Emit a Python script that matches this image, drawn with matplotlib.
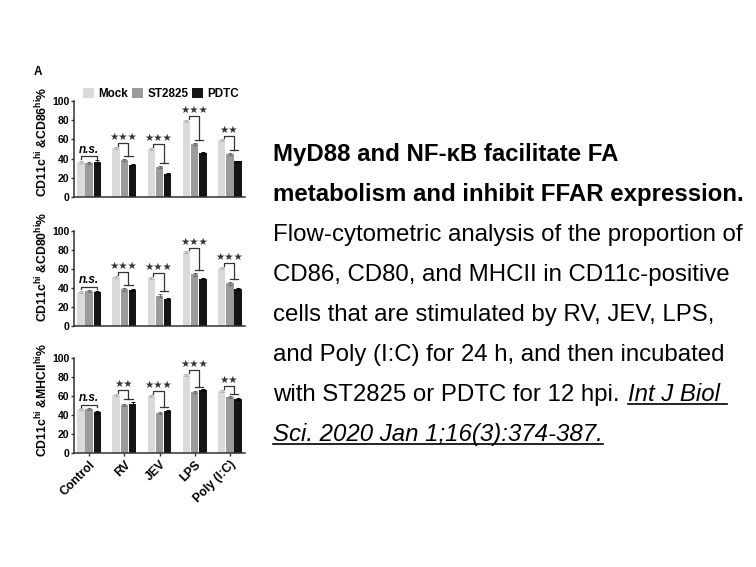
import matplotlib
matplotlib.use('Agg')
import matplotlib.pyplot as plt
import numpy as np
from matplotlib.lines import Line2D
from matplotlib.patches import Patch

plt.rcParams['font.family'] = ['Liberation Sans', 'DejaVu Sans']
plt.rcParams['mathtext.fontset'] = 'custom'
plt.rcParams['mathtext.rm'] = 'Liberation Sans:bold'
plt.rcParams['mathtext.bf'] = 'Liberation Sans:bold'
plt.rcParams['mathtext.it'] = 'Liberation Sans:italic:bold'

# ---------------- data ----------------
categories = ['Control', 'RV', 'JEV', 'LPS', 'Poly (I:C)']
treatments = ['Mock', 'ST2825', 'PDTC']

cd86_mock = [36, 51, 50, 79, 59]
cd86_st2825 = [35, 39, 31, 55, 44.5]
cd86_pdtc = [36.5, 33, 23.5, 46, 37]
cd86_err_mock = [1.0, 1.0, 1.0, 1.0, 1.0]
cd86_err_st2825 = [1.0, 1.0, 1.0, 1.0, 1.0]
cd86_err_pdtc = [2.5, 1.0, 1.0, 1.0, 1.0]
cd86_sig = ['n.s.', '***', '***', '***', '**']

cd80_mock = [36, 52, 51, 77.5, 61.5]
cd80_st2825 = [37, 38.5, 32, 54.5, 45]
cd80_pdtc = [35.5, 38, 28.5, 50, 39]
cd80_err_mock = [1.0, 1.0, 1.0, 1.0, 1.0]
cd80_err_st2825 = [1.0, 1.5, 1.5, 1.5, 1.5]
cd80_err_pdtc = [1.0, 1.0, 1.0, 1.0, 1.0]
cd80_sig = ['n.s.', '***', '***', '***', '***']

mhc_mock = [46.5, 61, 60, 82.5, 65.5]
mhc_st2825 = [46.5, 51, 42.5, 64, 58.5]
mhc_pdtc = [43, 52, 44, 66, 57]
mhc_err_mock = [1.0, 1.0, 1.0, 1.0, 1.0]
mhc_err_st2825 = [1.0, 1.0, 1.0, 1.0, 1.0]
mhc_err_pdtc = [1.5, 1.5, 1.0, 1.0, 1.0]
mhc_sig = ['n.s.', '**', '***', '***', '**']

ylabels = [r'CD11c$^{\mathbf{hi}}$ &CD86$^{\mathbf{hi}}$%',
           r'CD11c$^{\mathbf{hi}}$ &CD80$^{\mathbf{hi}}$%',
           r'CD11c$^{\mathbf{hi}}$ &MHCII$^{\mathbf{hi}}$%']
yticks = [0, 20, 40, 60, 80, 100]

caption_bold = ['MyD88 and NF-\u03baB facilitate FA',
                'metabolism and inhibit FFAR expression.']
caption_plain = ['Flow-cytometric analysis of the proportion of',
                 'CD86, CD80, and MHCII in CD11c-positive',
                 'cells that are stimulated by RV, JEV, LPS,',
                 'and Poly (I:C) for 24 h, and then incubated',
                 'with ST2825 or PDTC for 12 hpi. ']
citation = ['Int J Biol ', 'Sci. 2020 Jan 1;16(3):374-387.']

colors = ['#dadada', '#9b9b9b', '#151515']

panels = [
    (cd86_mock, cd86_st2825, cd86_pdtc, cd86_err_mock, cd86_err_st2825, cd86_err_pdtc, cd86_sig),
    (cd80_mock, cd80_st2825, cd80_pdtc, cd80_err_mock, cd80_err_st2825, cd80_err_pdtc, cd80_sig),
    (mhc_mock, mhc_st2825, mhc_pdtc, mhc_err_mock, mhc_err_st2825, mhc_err_pdtc, mhc_sig),
]

W, H = 756, 567
fig = plt.figure(figsize=(W / 100, H / 100), dpi=100)

# axes positions (pixels: left, x-axis y, 100-mark y)
ax_px = [(74, 197, 101), (74, 326, 231), (74, 453, 358)]
ax_w = 171
ylab_pos = [0.58, 0.62, 0.56]

x = np.arange(len(categories))
bw = 0.21
off = 0.235
lc = '#333333'

axes = []
for i, (pos, pdata) in enumerate(zip(ax_px, panels)):
    l, b0, t100 = pos
    ax = fig.add_axes([l / W, 1 - b0 / H, ax_w / W, (b0 - t100) / H])
    axes.append(ax)
    mock, st, pd_, em, es, ep, sig = pdata
    vals = [mock, st, pd_]
    errs = [em, es, ep]
    ecols = ['#b0b0b0', '#6a6a6a', '#000000']
    for k in range(3):
        ax.bar(x + (k - 1) * off, vals[k], bw, color=colors[k], zorder=2,
               yerr=errs[k], error_kw=dict(ecolor=ecols[k], elinewidth=0.7,
                                           capsize=1.2, capthick=0.7))
    ax.set_xlim(-0.43, 4.43)
    ax.set_ylim(0, 100)
    ax.set_yticks(yticks)
    ax.set_yticklabels([str(t) for t in yticks], fontsize=7.5, fontweight='bold')
    ax.tick_params(axis='y', length=2.5, width=1, pad=1, color=lc)
    for s in ['top', 'right']:
        ax.spines[s].set_visible(False)
    for s in ['left', 'bottom']:
        ax.spines[s].set_linewidth(1.1)
        ax.spines[s].set_color(lc)
    ax.set_xticks(x)
    if i < 2:
        ax.set_xticklabels([])
        ax.tick_params(axis='x', length=0)
    else:
        ax.set_xticklabels(categories, rotation=45, ha='right',
                           rotation_mode='anchor', fontsize=8.8, fontweight='bold')
        ax.tick_params(axis='x', length=2, width=1, pad=2, color=lc)
    ax.set_ylabel(ylabels[i], fontsize=8.8, fontweight='bold', labelpad=3)
    ax.yaxis.set_label_coords(-0.14, ylab_pos[i])

    # significance brackets
    for g in range(len(categories)):
        top_m = mock[g] + em[g]
        xm = g - off
        xs = g
        xp = g + off
        if sig[g] == 'n.s.':
            yl = max(top_m, st[g] + es[g], pd_[g] + ep[g]) + 3.5
            ax.plot([xm, xm, xp, xp], [yl - 2.5, yl, yl, yl - 2.5],
                    color=lc, lw=0.9, zorder=3)
            ax.text(g, yl + 0.5, 'n.s.', ha='center', va='bottom',
                    fontsize=8.5, fontweight='bold', fontstyle='italic')
        else:
            ytop = top_m + 4
            xl = xm + bw * 0.3
            xr = (xs + xp) / 2
            yT = max(st[g] + es[g], pd_[g] + ep[g]) + 3
            ax.plot([xl, xl, xr, xr], [top_m + 1, ytop, ytop, yT],
                    color=lc, lw=0.9, zorder=3)
            ax.plot([xs, xp], [yT, yT], color=lc, lw=0.9, zorder=3)
            nstar = len(sig[g])
            ax.text((xl + xr) / 2, ytop + 1, '\u2605' * nstar, ha='center',
                    va='bottom', fontsize=7.5, family='DejaVu Sans', color='#333333')

# legend
handles = [Patch(facecolor=c, edgecolor='none') for c in colors]
axes[0].legend(handles, treatments, ncol=3, loc='center left',
               bbox_to_anchor=(0.05, 1.07), frameon=False, handlelength=0.95,
               handleheight=0.95, handletextpad=0.4, columnspacing=0.3,
               borderaxespad=0, borderpad=0,
               prop=dict(size=8.4, weight='bold'))

fig.text(38 / W, 1 - 72 / H, 'A', fontsize=8.5, fontweight='bold', va='center', ha='center')

# caption
x0 = 273 / W
fs = 17.3
lines_y = [161 + 40 * k for k in range(8)]
txts = []
for k, s in enumerate(caption_bold):
    fig.text(x0, 1 - lines_y[k] / H, s, fontsize=fs, fontweight='bold', va='baseline')
for k, s in enumerate(caption_plain):
    t = fig.text(x0, 1 - lines_y[k + 2] / H, s, fontsize=fs, va='baseline')
    txts.append(t)

fig.canvas.draw()
r = fig.canvas.get_renderer()
bb = txts[-1].get_window_extent(renderer=r)
cit1 = fig.text(bb.x1 / W + 2 / W, 1 - lines_y[6] / H, citation[0], fontsize=fs,
                fontstyle='italic', va='baseline')
cit2 = fig.text(x0, 1 - lines_y[7] / H, citation[1], fontsize=fs,
                fontstyle='italic', va='baseline')
fig.canvas.draw()
for t, ly in [(cit1, lines_y[6]), (cit2, lines_y[7])]:
    e = t.get_window_extent(renderer=r)
    yy = 1 - (ly + 3) / H
    fig.add_artist(Line2D([e.x0 / W, e.x1 / W], [yy, yy], transform=fig.transFigure,
                          color='black', lw=1.2))

fig.savefig('out.png', dpi=100)
